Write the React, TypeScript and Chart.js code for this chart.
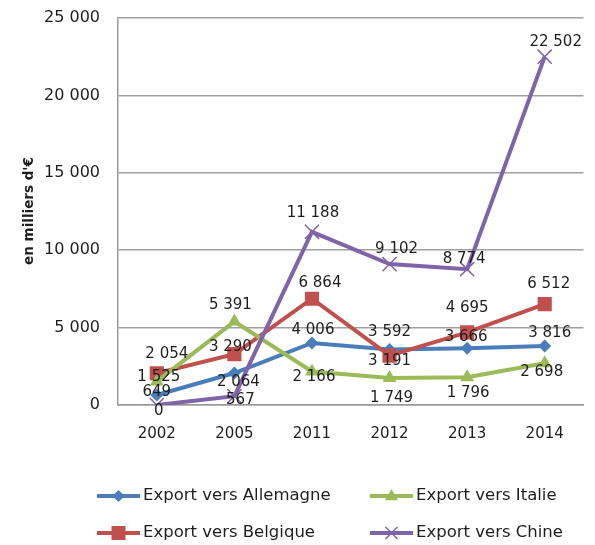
import React, { useEffect, useRef } from "react";
import { Chart, registerables } from "chart.js";

Chart.register(...registerables);

// ---- data ----
const years = ["2002", "2005", "2011", "2012", "2013", "2014"];
const allemagne = [649, 2064, 4006, 3592, 3666, 3816];
const belgique = [2054, 3290, 6864, 3191, 4695, 6512];
const italie = [1525, 5391, 2166, 1749, 1796, 2698];
const chine = [0, 567, 11188, 9102, 8774, 22502];
const yTickValues = [0, 5000, 10000, 15000, 20000, 25000];
const yTitle = "en milliers d'€";
const names = ["Export vers Allemagne", "Export vers Belgique", "Export vers Italie", "Export vers Chine"];

// ---- label offsets (style, px) ----
const offAllemagne = [[0, -3], [4, 9], [1, -13], [0, -17], [-1, -11], [5, -13]];
const offBelgique = [[10, -19], [-4, -7], [8, -16], [0, 6], [0, -24], [4, -20]];
const offItalie = [[2, -4], [-4, -16], [2, 6], [2, 20], [1, 16], [-3, 9]];
const offChine = [[2, 6], [6, 4], [1, -19], [7, -15], [-3, -10], [11, -15]];

const BLUE = "#4A7EBB";
const RED = "#C0504D";
const GREEN = "#9BBB59";
const PURPLE = "#8064A8";
const FONT = "DejaVu Sans";
const TEXT = "#1e1e1e";

const fmt = (v: number) => String(v).replace(/\B(?=(\d{3})+(?!\d))/g, " ");

const labelOffsets = [offAllemagne, offBelgique, offItalie, offChine];

const dataLabelPlugin = {
  id: "dataLabels",
  afterDatasetsDraw(chart: any) {
    const ctx = chart.ctx;
    ctx.save();
    ctx.font = `15px "${FONT}"`;
    ctx.fillStyle = TEXT;
    ctx.textAlign = "center";
    ctx.textBaseline = "middle";
    chart.data.datasets.forEach((ds: any, di: number) => {
      const meta = chart.getDatasetMeta(di);
      meta.data.forEach((pt: any, i: number) => {
        const o = labelOffsets[di][i];
        ctx.fillText(fmt(ds.data[i]), pt.x + o[0], pt.y + o[1]);
      });
    });
    ctx.restore();
  },
};

const drawMarker = (ctx: any, style: string, x: number, y: number, color: string) => {
  ctx.save();
  ctx.fillStyle = color;
  ctx.strokeStyle = color;
  ctx.beginPath();
  if (style === "rectRot") {
    const r = 6;
    ctx.moveTo(x, y - r);
    ctx.lineTo(x + r, y);
    ctx.lineTo(x, y + r);
    ctx.lineTo(x - r, y);
    ctx.closePath();
    ctx.fill();
  } else if (style === "rect") {
    const s = 7;
    ctx.rect(x - s, y - s, 2 * s, 2 * s);
    ctx.fill();
  } else if (style === "triangle") {
    const r = 7;
    ctx.moveTo(x, y - r);
    ctx.lineTo(x + r * 0.95, y + r * 0.6);
    ctx.lineTo(x - r * 0.95, y + r * 0.6);
    ctx.closePath();
    ctx.fill();
  } else {
    const s = 6;
    ctx.lineWidth = 1.5;
    ctx.moveTo(x - s, y - s);
    ctx.lineTo(x + s, y + s);
    ctx.moveTo(x + s, y - s);
    ctx.lineTo(x - s, y + s);
    ctx.stroke();
  }
  ctx.restore();
};

const legendItems = [
  { name: names[0], color: BLUE, style: "rectRot", x: 97, y: 496 },
  { name: names[2], color: GREEN, style: "triangle", x: 370, y: 496 },
  { name: names[1], color: RED, style: "rect", x: 97, y: 533 },
  { name: names[3], color: PURPLE, style: "crossRot", x: 370, y: 533 },
];

const extrasPlugin = {
  id: "extras",
  afterDraw(chart: any) {
    const ctx = chart.ctx;
    ctx.save();
    // y axis title
    ctx.translate(29, 211);
    ctx.rotate(-Math.PI / 2);
    ctx.font = `bold 13.5px "${FONT}"`;
    ctx.fillStyle = TEXT;
    ctx.textAlign = "center";
    ctx.textBaseline = "middle";
    ctx.fillText(yTitle, 0, 0);
    ctx.restore();

    // legend
    legendItems.forEach((it) => {
      ctx.save();
      ctx.strokeStyle = it.color;
      ctx.lineWidth = 4;
      ctx.beginPath();
      ctx.moveTo(it.x, it.y);
      ctx.lineTo(it.x + 43, it.y);
      ctx.stroke();
      ctx.restore();
      drawMarker(ctx, it.style, it.x + 21.5, it.y, it.color);
      ctx.save();
      ctx.font = `16.5px "${FONT}"`;
      ctx.fillStyle = TEXT;
      ctx.textAlign = "left";
      ctx.textBaseline = "middle";
      ctx.fillText(it.name, it.x + 46, it.y);
      ctx.restore();
    });
  },
};

const bgPlugin = {
  id: "bg",
  beforeDraw(chart: any) {
    const ctx = chart.ctx;
    ctx.save();
    ctx.fillStyle = "#ffffff";
    ctx.fillRect(0, 0, chart.width, chart.height);
    ctx.restore();
  },
};

export default function App() {
  const ref = useRef<HTMLCanvasElement | null>(null);
  useEffect(() => {
    if (!ref.current) return;
    const chart = new Chart(ref.current, {
      type: "line",
      data: {
        labels: years,
        datasets: [
          {
            label: names[0],
            data: allemagne,
            borderColor: BLUE,
            backgroundColor: BLUE,
            pointStyle: "rectRot",
            pointRadius: 6.5,
            pointBorderWidth: 0,
            borderWidth: 4,
            order: 3,
          },
          {
            label: names[1],
            data: belgique,
            borderColor: RED,
            backgroundColor: RED,
            pointStyle: "rect",
            pointRadius: 10,
            pointBorderWidth: 0,
            borderWidth: 4,
            order: 2,
          },
          {
            label: names[2],
            data: italie,
            borderColor: GREEN,
            backgroundColor: GREEN,
            pointStyle: "triangle",
            pointRadius: 8,
            pointBorderWidth: 0,
            borderWidth: 4,
            order: 1,
          },
          {
            label: names[3],
            data: chine,
            borderColor: PURPLE,
            backgroundColor: PURPLE,
            pointStyle: "crossRot",
            pointRadius: 10,
            pointBorderWidth: 1.5,
            borderWidth: 4,
            order: 0,
          },
        ] as any,
      },
      options: {
        animation: false,
        responsive: false,
        maintainAspectRatio: false,
        elements: { line: { tension: 0 } },
        layout: { padding: { top: 18, right: 10, bottom: 82, left: 0 } },
        plugins: {
          legend: { display: false },
          tooltip: { enabled: false },
          title: { display: false },
        },
        scales: {
          x: {
            offset: true,
            grid: { display: false, drawTicks: false },
            border: { display: true, color: "#9a9a9a", width: 1.5 },
            ticks: { color: TEXT, font: { family: FONT, size: 15 }, padding: 20 },
          },
          y: {
            min: 0,
            max: 25000,
            afterFit: (s: any) => {
              s.width = 118;
              s.paddingTop = 0;
              s.paddingBottom = 0;
            },
            afterBuildTicks: (s: any) => {
              s.ticks = yTickValues.map((v) => ({ value: v }));
            },
            grid: { color: "#a0a0a0", lineWidth: 1.5, drawTicks: false },
            border: { display: true, color: "#9a9a9a", width: 1.5 },
            ticks: {
              color: TEXT,
              font: { family: FONT, size: 16 },
              padding: 18,
              callback: (v: any) => fmt(Number(v)),
            },
          },
        },
      },
      plugins: [bgPlugin, dataLabelPlugin, extrasPlugin],
    });
    return () => chart.destroy();
  }, []);
  return (
    <div style={{ position: "fixed", left: 0, top: 0, width: 595, height: 545, background: "#fff" }}>
      <canvas ref={ref} width={595} height={545} style={{ display: "block" }} />
    </div>
  );
}
